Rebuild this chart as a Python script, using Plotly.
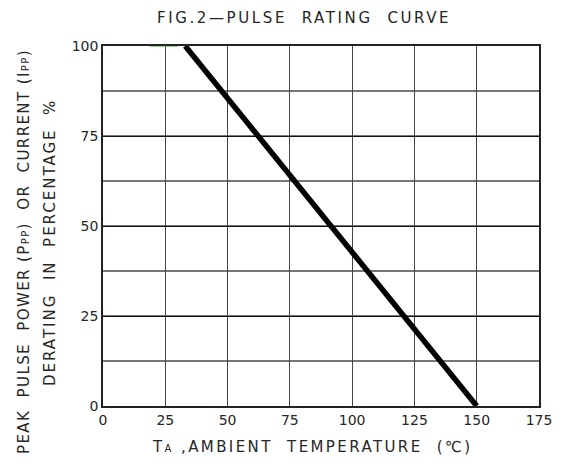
import plotly.graph_objects as go

# Data
temp_c = [33, 150]            # ambient temperature (°C)
derating_pct = [100, 0]       # derating in percentage
flat_temp = [19, 30]          # faint green segment along 100 %
flat_pct = [100, 100]
x_ticks = [0, 25, 50, 75, 100, 125, 150, 175]
y_ticks = [0, 25, 50, 75, 100]

OFF = 8                        # default page body margin
W, H = 556, 459
L, R, T, B = 95, 25, 38, 61
pw, ph = W - L - R, H - T - B

def px(x):                     # page pixel -> paper fraction
    return (x - OFF - L) / pw

def py(y):
    return (H - B - (y - OFF)) / ph

FONT = "DejaVu Sans"
TXT = "#262626"

fig = go.Figure()
fig.add_trace(go.Scatter(x=flat_temp, y=flat_pct, mode="lines",
                         line=dict(color="#66cc66", width=1.5),
                         cliponaxis=False, hoverinfo="skip", showlegend=False))
fig.add_trace(go.Scatter(x=temp_c, y=derating_pct, mode="lines",
                         line=dict(color="#000000", width=5.5),
                         cliponaxis=False, showlegend=False))

sm = "font-size:10px"
def sp(v):
    return f"letter-spacing:{v}px"

annos = [
    dict(text=f"<span style='{sp(2.6)}'>FIG.2—PULSE  RATING  CURVE</span>",
         x=px(304), y=py(18), font=dict(size=15)),
    dict(text=f"<span style='{sp(2.4)}'>T<span style='{sm}'>A</span> ,AMBIENT  TEMPERATURE  (℃)</span>",
         x=px(312), y=py(447), font=dict(size=15)),
    dict(text=f"<span style='{sp(1.4)}'>PEAK  PULSE  POWER (P<span style='{sm}'>PP</span>)  OR  CURRENT (I<span style='{sm}'>PP</span>)</span>",
         x=px(24), y=py(252), textangle=-90, font=dict(size=15)),
    dict(text=f"<span style='{sp(2.0)}'>DERATING  IN  PERCENTAGE  %</span>",
         x=px(50), y=py(243), textangle=-90, font=dict(size=15)),
]
for a in annos:
    a.update(xref="paper", yref="paper", showarrow=False,
             xanchor="center", yanchor="middle")
    a["font"].update(family=FONT, color=TXT)
    fig.add_annotation(**a)

fig.update_layout(
    width=W, height=H,
    margin=dict(l=L, r=R, t=T, b=B),
    paper_bgcolor="white", plot_bgcolor="white",
    font=dict(family=FONT, color=TXT, size=14),
    xaxis=dict(range=[0, 175], tickvals=x_ticks, ticktext=[str(v) for v in x_ticks],
               showgrid=True, gridcolor="#444444", gridwidth=1,
               showline=True, linecolor="#222222", linewidth=1.5, mirror=True,
               zeroline=False, ticks="", fixedrange=True,
               tickfont=dict(size=14, color=TXT)),
    yaxis=dict(range=[0, 100], tickvals=y_ticks, ticktext=[str(v) for v in y_ticks],
               showgrid=True, gridcolor="#111111", gridwidth=1,
               minor=dict(dtick=12.5, tick0=0, showgrid=True, gridcolor="#777777", gridwidth=1.5, ticks=""),
               showline=True, linecolor="#222222", linewidth=1.5, mirror=True,
               zeroline=False, ticks="", fixedrange=True,
               tickfont=dict(size=14, color=TXT)),
)

fig.write_html("out.html")
